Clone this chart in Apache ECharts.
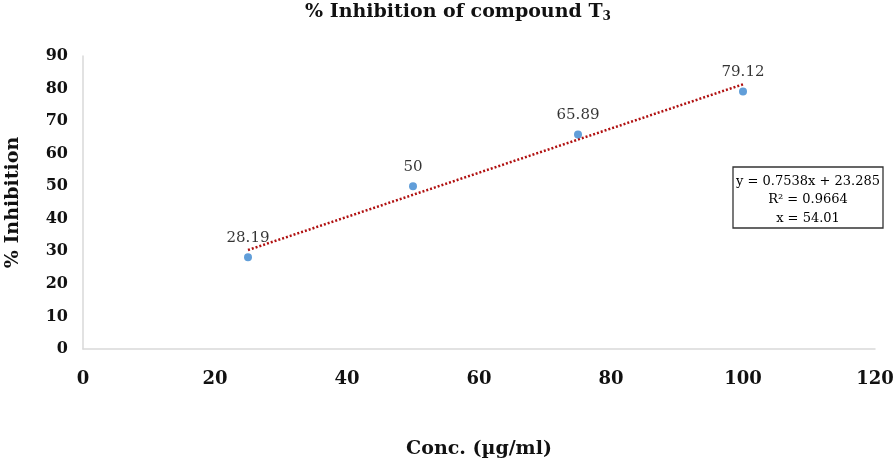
<!DOCTYPE html>
<html><head><meta charset="utf-8">
<script src="https://cdn.jsdelivr.net/npm/echarts@6/dist/echarts.min.js"></script>
<style>html,body{margin:0;padding:0;background:#fff}#c{width:896px;height:464px}</style>
</head><body><div id="c"></div>
<script>
const concentrations = [25, 50, 75, 100];
const inhibition = [28.19, 50, 65.89, 79.12];
const trendX = [25, 100];
const trendY = [30.4, 81.3];
const xTicks = [0, 20, 40, 60, 80, 100, 120];
const yTicks = [0, 10, 20, 30, 40, 50, 60, 70, 80, 90];
const equationLines = ['y = 0.7538x + 23.285', 'R² = 0.9664', 'x = 54.01'];

const serif = '"DejaVu Serif", "Liberation Serif", serif';
const ink = '#111';
const chart = echarts.init(document.getElementById('c'), null, {renderer: 'canvas'});
chart.setOption({
  animation: false,
  backgroundColor: '#fff',
  title: {
    text: '% Inhibition of compound T{sub|3}',
    left: 453, top: -4, textAlign: 'center',
    textStyle: {
      fontFamily: serif, fontWeight: 'bold', fontSize: 19, color: ink,
      rich: {sub: {fontFamily: serif, fontWeight: 'bold', fontSize: 12, verticalAlign: 'bottom', padding: [10, 0, 0, 0], color: ink}}
    }
  },
  grid: {left: 83, right: 21, top: 56, bottom: 115, containLabel: false, outerBoundsMode: 'none'},
  xAxis: {
    type: 'value', min: xTicks[0], max: xTicks[xTicks.length - 1], interval: 20,
    name: 'Conc. (µg/ml)', nameLocation: 'middle', nameGap: 91,
    nameTextStyle: {fontFamily: serif, fontWeight: 'bold', fontSize: 19, color: ink},
    axisLine: {show: true, lineStyle: {color: '#d9d9d9', width: 1.5}},
    axisTick: {show: false},
    splitLine: {show: false},
    axisLabel: {fontFamily: serif, fontWeight: 'bold', fontSize: 18, color: ink, margin: 21}
  },
  yAxis: {
    type: 'value', min: yTicks[0], max: yTicks[yTicks.length - 1], interval: 10,
    name: '% Inhibition', nameLocation: 'middle', nameGap: 60, nameRotate: 90,
    nameTextStyle: {fontFamily: serif, fontWeight: 'bold', fontSize: 19, color: ink},
    axisLine: {show: true, lineStyle: {color: '#d9d9d9', width: 1.5}},
    axisTick: {show: false},
    splitLine: {show: false},
    axisLabel: {fontFamily: serif, fontWeight: 'bold', fontSize: 16, color: ink, margin: 15}
  },
  series: [
    {
      type: 'line',
      data: trendX.map((x, i) => [x, trendY[i]]),
      symbol: 'none',
      lineStyle: {color: '#b01010', width: 2.5, type: [2, 2], cap: 'butt'},
      z: 2
    },
    {
      type: 'scatter',
      data: concentrations.map((x, i) => [x, inhibition[i]]),
      symbolSize: 8,
      itemStyle: {color: '#3a86d0'},
      label: {
        show: true, position: 'top', distance: 8,
        formatter: p => String(p.value[1]),
        fontFamily: serif, fontSize: 15, color: '#000'
      },
      z: 3
    }
  ],
  graphic: [
    {
      type: 'rect', x: 733, y: 167,
      shape: {width: 150, height: 61},
      style: {fill: '#fff', stroke: '#333', lineWidth: 1.3}
    },
    {
      type: 'text', x: 808, y: 172,
      style: {
        text: equationLines.join('\n'), align: 'center', verticalAlign: 'top',
        fontFamily: serif, fontSize: 13, lineHeight: 18.5, fill: '#000'
      }
    }
  ]
});
</script></body></html>
